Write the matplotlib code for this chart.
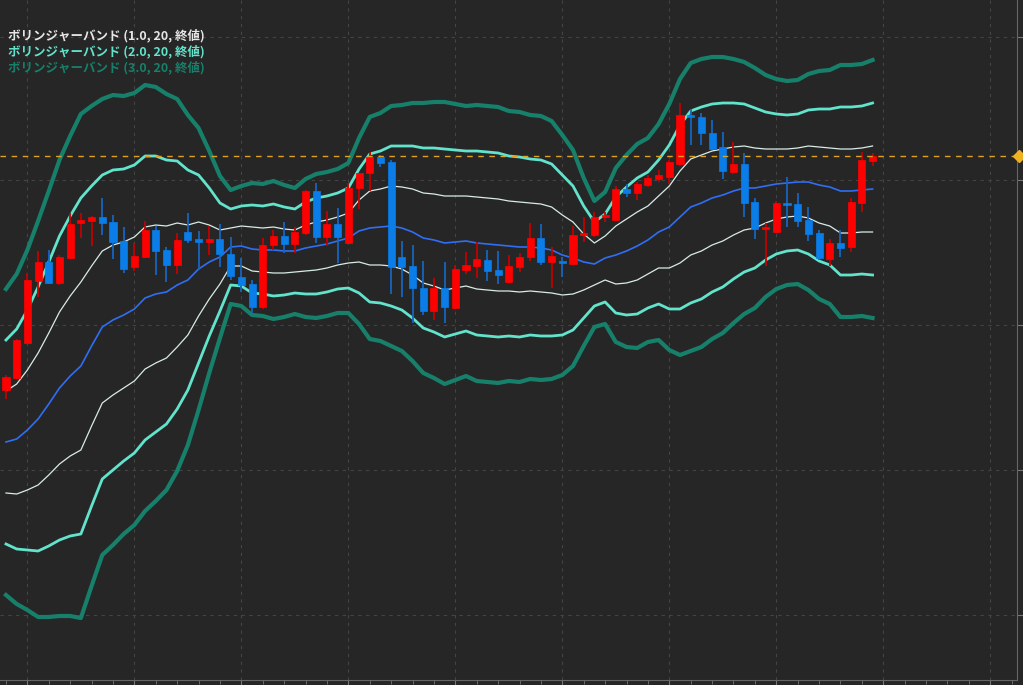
import numpy as np
import matplotlib
matplotlib.use("Agg")
import matplotlib.pyplot as plt
from matplotlib.patches import Rectangle

opens  = [310,322,357,419,438,417,442,477,479,483, 478,459,433,443,470,450,435,468,461,458,
          461,446,423,416,393,455,464,456,467,509, 463,476,457,512,527,543,538,443,434,412,
          389,412,392,430,434,440,430,418,433,443, 462,438,439,436,465,465,483,480,511,507,
          515,521,523,536,585,583,567,553,528,536, 498,471,468,497,496,480,467,441,457,453,
          497,539]
highs  = [325,361,427,449,450,445,487,487,484,502, 485,473,457,479,474,453,467,487,469,474,
          476,463,442,420,462,470,478,473,510,517, 489,492,517,527,548,545,540,459,455,439,
          422,438,435,448,458,450,449,445,447,477, 476,453,443,474,483,488,488,514,516,518,
          525,530,540,597,591,587,580,568,558,547, 502,477,499,523,507,493,470,461,470,502,
          548,547]
lows   = [301,321,356,403,416,415,441,462,454,465, 441,427,429,442,425,418,426,457,430,445,
          433,420,408,387,391,450,447,447,465,457, 454,437,456,491,509,533,406,403,377,385,
          380,377,391,426,422,419,416,417,428,439, 435,412,423,435,458,463,478,479,503,500,
          513,518,516,534,555,555,550,521,526,483, 461,434,467,473,473,459,440,434,443,448,
          488,534]
closes = [323,360,420,438,417,443,476,480,483,477, 458,431,444,470,449,435,460,460,458,461,
          446,424,415,393,455,464,456,468,509,463, 476,463,512,527,543,537,433,433,412,389,
          412,393,431,435,441,429,425,434,443,462, 438,444,437,465,467,483,485,511,507,516,
          522,525,538,585,583,567,551,529,536,497, 471,473,497,495,479,466,442,457,452,498,
          540,544]
bb_mid = [258,261,270,281,296,312,324,334,354,373, 380,385,391,402,406,408,415,420,431,438,
          443,453,454,451,450,450,449,449,452,454, 456,459,462,469,472,473,474,472,468,462,
          460,457,458,459,457,456,455,454,453,453, 452,450,445,442,438,436,442,445,449,454,
          460,468,473,483,493,497,502,505,509,512, 512,514,516,517,518,518,515,513,509,509,
          510,511]
bb_sd  = [51,55,60,66,71,76,80,84,80,76, 75,73,72,71,69,66,62,55,47,37,
          27,19,20,22,22,23,22,21,23,24, 24,24,25,31,37,38,40,41,43,45,
          46,47,46,45,46,46,46,45,45,44, 44,43,40,36,28,21,22,29,32,34,
          34,36,41,46,48,48,47,46,44,42, 40,37,35,34,34,36,38,39,42,42,
          42,43]
last_price = 544
legend_labels = ["ボリンジャーバンド (1.0, 20, 終値)",
                 "ボリンジャーバンド (2.0, 20, 終値)",
                 "ボリンジャーバンド (3.0, 20, 終値)"]
grid_prices = [663, 520, 375, 230, 85]

BG = "#262626"
fig = plt.figure(figsize=(10.23, 6.85), dpi=100, facecolor=BG)
ax = fig.add_axes([0, 5/685, 1017/1023, 680/685], facecolor=BG)

n = len(opens)
x = np.arange(n)
mid = np.array(bb_mid, float)
sd = np.array(bb_sd, float)

ax.set_xlim(-0.56, 94.5)
ax.set_ylim(20, 700)
ax.set_xticks(np.arange(2, 95, 10))
ax.set_xticks(np.arange(0, 95, 2), minor=True)
ax.set_yticks(grid_prices)
ax.grid(True, which="major", color="#444444", linestyle=(0, (3, 4)), linewidth=0.8)
ax.tick_params(axis="x", which="both", colors="#777777", direction="out", labelbottom=False)
ax.tick_params(axis="x", which="major", length=5)
ax.tick_params(axis="x", which="minor", length=3)
ax.yaxis.tick_right()
ax.tick_params(axis="y", colors="#777777", length=4, labelright=False, labelleft=False)
for s in ["top", "left"]:
    ax.spines[s].set_visible(False)
for s in ["right", "bottom"]:
    ax.spines[s].set_color("#666666")

# bands
ax.plot(x, mid + 3*sd, color="#17806a", lw=3, zorder=2)
ax.plot(x, mid - 3*sd, color="#17806a", lw=3, zorder=2)
ax.plot(x, mid + 2*sd, color="#62e3cc", lw=2, zorder=2)
ax.plot(x, mid - 2*sd, color="#62e3cc", lw=2, zorder=2)
ax.plot(x, mid + sd, color="#d8ece6", lw=0.9, zorder=2)
ax.plot(x, mid - sd, color="#d8ece6", lw=0.9, zorder=2)
ax.plot(x, mid, color="#2f6ef5", lw=1.2, zorder=2)

# candles
w = 0.66
for i in range(n):
    o, h, l, c = opens[i], highs[i], lows[i], closes[i]
    up = c >= o
    body = "#ff0000" if up else "#0a7de8"
    wick = "#c40000" if up else "#1565c0"
    ax.vlines(i, l, h, color=wick, lw=1.3, zorder=3)
    ax.add_patch(Rectangle((i - w/2, min(o, c)), w, max(abs(c - o), 1.5),
                           facecolor=body, edgecolor=body, lw=0.5, zorder=4))

ax.axhline(last_price, color="#e0a020", lw=1, linestyle=(0, (4, 4)), zorder=5)
ax.plot([94.7], [last_price], marker="D", color="#f0b020", markersize=6, clip_on=False, zorder=6)

cols = ["#e6e6e6", "#62e3cc", "#17806a"]
for k, (lab, c) in enumerate(zip(legend_labels, cols)):
    fig.text(8/1023, 1 - (35 + 16*k)/685, lab, color=c, fontsize=9, fontweight="bold",
             family=["Noto Sans CJK JP", "DejaVu Sans"], va="center", ha="left")

fig.savefig("out.png", dpi=100, facecolor=BG)
